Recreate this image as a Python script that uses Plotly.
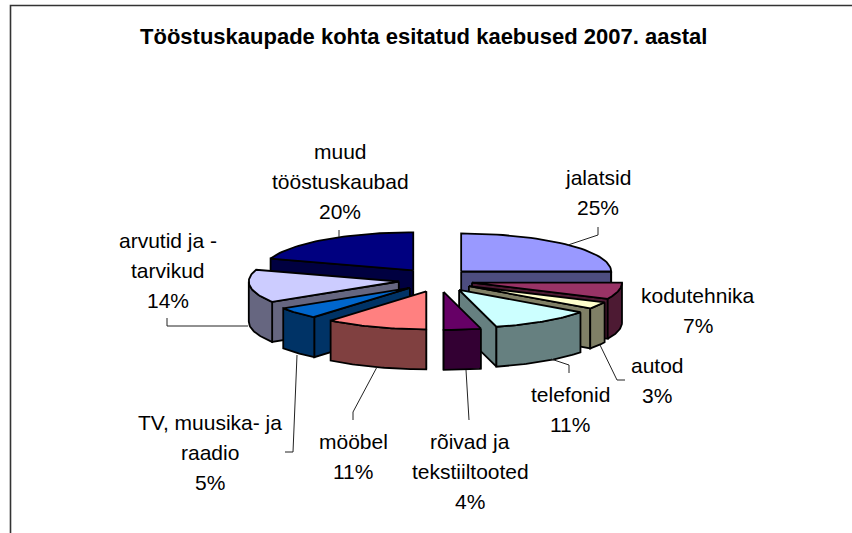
import numpy as np
import plotly.graph_objects as go

categories = ["jalatsid", "kodutehnika", "autod", "telefonid", "rõivad ja<br>tekstiiltooted",
              "mööbel", "TV, muusika- ja<br>raadio", "arvutid ja -<br>tarvikud", "muud<br>tööstuskaubad"]
values = [25, 7, 3, 11, 4, 11, 5, 14, 20]
top_colors = ["#9999FF", "#993366", "#FFFFCC", "#CCFFFF", "#660066", "#FF8080", "#0066CC", "#CCCCFF", "#000080"]
side_colors = ["#4D4D80", "#4D1A33", "#808066", "#668080", "#330033", "#804040", "#003366", "#666680", "#000040"]
title_text = "Tööstuskaupade kohta esitatud kaebused 2007. aastal"

# geometry of the projected pie (pixels)
CX, CY, RX, RY, DEPTH = 435, 280, 150, 38, 40
EX, EY, FRONT_SHIFT = 37, 12, 4
total = sum(values)
edges = np.cumsum([0] + values) / total * 2 * np.pi

def pt(a, r=1.0):
    return RX * r * np.sin(a), -RY * r * np.cos(a)

fig = go.Figure()

def poly(xs, ys, color):
    fig.add_trace(go.Scatter(x=list(xs) + [xs[0]], y=list(ys) + [ys[0]], mode="lines", fill="toself",
                             fillcolor=color, line=dict(color="black", width=1.8),
                             hoverinfo="skip", showlegend=False))

def slice_draw(i):
    a0, a1 = edges[i], edges[i + 1]
    mid = (a0 + a1) / 2
    ax = CX + EX * np.sin(mid) + FRONT_SHIFT * max(0.0, -np.cos(mid))
    ay = CY - EY * np.cos(mid)
    arc = np.linspace(a0, a1, 40)
    ox, oy = pt(arc)
    ox, oy = ax + ox, ay + oy
    # radial wall that faces the viewer
    wall = a1 if mid < np.pi else a0
    wx, wy = pt(wall)
    poly([ax, ax + wx, ax + wx, ax], [ay, ay + wy, ay + wy + DEPTH, ay + DEPTH], side_colors[i])
    # outer wall: only the part of the rim on the front half
    front = np.cos(arc) <= 0.02
    if front.any():
        fx, fy = ox[front], oy[front]
        poly(list(fx) + list(fx[::-1]), list(fy) + list(fy[::-1] + DEPTH), side_colors[i])
    # top face
    poly([ax] + list(ox), [ay] + list(oy), top_colors[i])

for i in [8, 0, 7, 1, 2, 6, 3, 5, 4]:
    slice_draw(i)

leaders = [
    [(568, 245), (598, 235), (598, 227)],
    [(600, 345), (617, 380), (625, 380)],
    [(551, 359), (569, 365), (569, 373)],
    [(466, 370), (469, 420)],
    [(377, 367), (353, 412), (353, 420)],
    [(297, 355), (293, 452), (285, 452)],
    [(248, 326), (167, 326), (167, 318)],
    [(339, 237), (339, 230)],
]
for seg in leaders:
    fig.add_trace(go.Scatter(x=[p[0] for p in seg], y=[p[1] for p in seg], mode="lines",
                             line=dict(color="#222222", width=1), hoverinfo="skip", showlegend=False))

# frame
fig.add_trace(go.Scatter(x=[10.5, 10.5, 852], y=[533, 5.5, 5.5], mode="lines",
                         line=dict(color="#333333", width=1.6), hoverinfo="skip", showlegend=False))

label_x = [598, 698, 657, 570, 470, 353, 210, 168, 340]
label_y0 = [177, 295, 365, 394, 441, 441, 422, 240, 151]
LINE_GAP = 30
FONT = "Liberation Sans, Arial, sans-serif"
for c, v, x, y in zip(categories, values, label_x, label_y0):
    for k, line in enumerate(c.split("<br>") + [f"{v}%"]):
        fig.add_annotation(x=x, y=y + k * LINE_GAP, xref="x", yref="y", text=line, showarrow=False,
                           font=dict(family=FONT, size=21, color="black"))
fig.add_annotation(x=423, y=36, xref="x", yref="y", text=f"<b>{title_text}</b>", showarrow=False,
                   font=dict(family=FONT, size=22, color="black"))

fig.update_layout(width=852, height=533, margin=dict(l=0, r=0, t=0, b=0), autosize=False,
                  paper_bgcolor="white", plot_bgcolor="white", showlegend=False,
                  xaxis=dict(range=[0, 852], visible=False, fixedrange=True),
                  yaxis=dict(range=[533, 0], visible=False, fixedrange=True))
fig.write_html("out.html", config={"displayModeBar": False},
               post_script="document.body.style.margin='0';document.documentElement.style.overflow='hidden';")
